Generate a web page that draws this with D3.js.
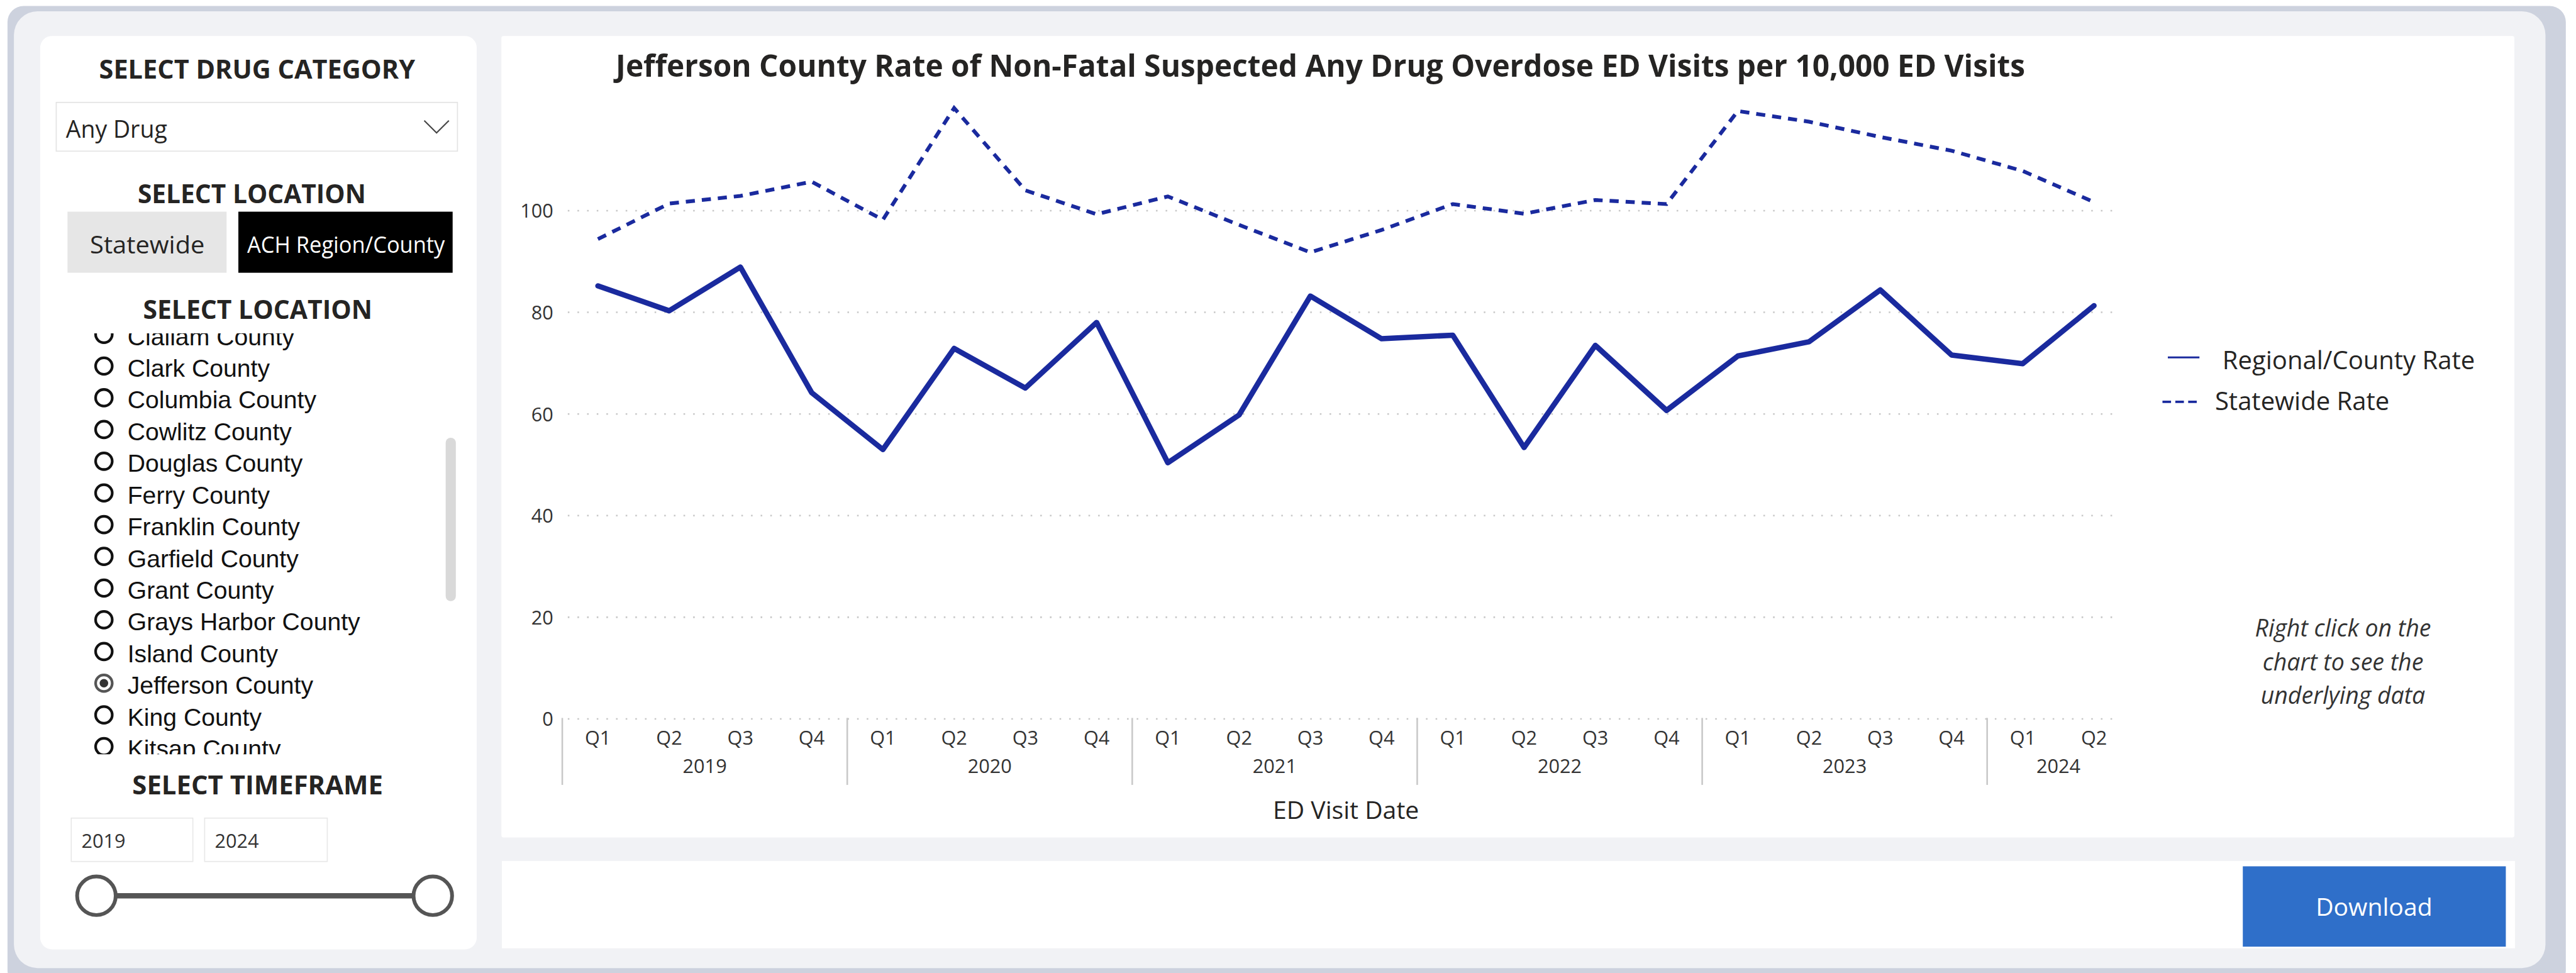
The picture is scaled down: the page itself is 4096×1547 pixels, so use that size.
<!DOCTYPE html>
<html>
<head>
<meta charset="utf-8">
<script src="https://cdn.jsdelivr.net/npm/d3@7"></script>
<style>
  html, body { margin: 0; padding: 0; background: #ffffff; overflow: hidden; }
  svg { display: block; }
</style>
</head>
<body>
<svg id="report"></svg>
<script>
// ---- data -------------------------------------------------------------
const periods = [
  "2019 Q1","2019 Q2","2019 Q3","2019 Q4",
  "2020 Q1","2020 Q2","2020 Q3","2020 Q4",
  "2021 Q1","2021 Q2","2021 Q3","2021 Q4",
  "2022 Q1","2022 Q2","2022 Q3","2022 Q4",
  "2023 Q1","2023 Q2","2023 Q3","2023 Q4",
  "2024 Q1","2024 Q2"
];
const countyRate = [
  85.2, 80.3, 88.9, 64.2,
  53.0, 72.9, 65.1, 78.0,
  50.4, 59.8, 83.2, 74.8,
  75.5, 53.4, 73.5, 60.7,
  71.4, 74.2, 84.4, 71.6,
  69.9, 81.3
];
const statewideRate = [
  94.4, 101.4, 102.9, 105.7,
  98.2, 120.2, 104.0, 99.3,
  102.8, 97.2, 91.8, 96.2,
  101.3, 99.4, 102.1, 101.3,
  119.6, 117.5, 114.5, 111.8,
  107.8, 101.7
];
const yTicks = [0, 20, 40, 60, 80, 100];
const legendLabels = ["Regional/County Rate", "Statewide Rate"];
const counties = [
  "Clallam County","Clark County","Columbia County","Cowlitz County",
  "Douglas County","Ferry County","Franklin County","Garfield County",
  "Grant County","Grays Harbor County","Island County","Jefferson County",
  "King County","Kitsap County"
];
const selectedCounty = "Jefferson County";
const drugCategory = "Any Drug";
const locationModes = ["Statewide", "ACH Region/County"];
const timeframe = ["2019", "2024"];
const chartTitle = "Jefferson County Rate of Non-Fatal Suspected Any Drug Overdose ED Visits per 10,000 ED Visits";
const noteLines = ["Right click on the", "chart to see the", "underlying data"];

// ---- canvas -----------------------------------------------------------
const W = 4809, H = 1816;
const UI = "'Open Sans', 'Noto Sans', sans-serif";
const LIST = "'Liberation Sans', Arial, sans-serif";
const INK = "#252423";
const BLUE = "#1a2a9e";

const svg = d3.select("#report")
  .attr("width", 4096).attr("height", 1547)
  .attr("viewBox", `0 0 ${W} ${H}`);

function label(g, txt, x, y, size, opts = {}) {
  const t = g.append("text")
    .attr("x", x).attr("y", y)
    .attr("font-family", opts.family || UI)
    .attr("font-size", size)
    .attr("font-weight", opts.weight || 400)
    .attr("font-style", opts.style || "normal")
    .attr("fill", opts.fill || INK)
    .attr("text-anchor", opts.anchor || "start")
    .text(txt);
  if (opts.width) t.attr("textLength", opts.width).attr("lengthAdjust", "spacingAndGlyphs");
  return t;
}

// ---- report frame -----------------------------------------------------
svg.append("rect").attr("x", 14).attr("y", 11).attr("width", 4776).attr("height", 1830)
  .attr("rx", 30).attr("fill", "#cdd2de");
svg.append("rect").attr("x", 26).attr("y", 21).attr("width", 4726).attr("height", 1786)
  .attr("rx", 44).attr("fill", "#f1f2f5");

// slicer panel
svg.append("rect").attr("x", 75).attr("y", 67).attr("width", 815).attr("height", 1705)
  .attr("rx", 22).attr("fill", "#ffffff");
// chart panel
svg.append("rect").attr("x", 936).attr("y", 67).attr("width", 3758).attr("height", 1496)
  .attr("rx", 4).attr("fill", "#ffffff");
// button panel
svg.append("rect").attr("x", 937).attr("y", 1607).attr("width", 3758).attr("height", 163)
  .attr("fill", "#ffffff");

// ---- slicers ----------------------------------------------------------
const side = svg.append("g");

label(side, "SELECT DRUG CATEGORY", 480, 147, 48, { weight: 700, anchor: "middle", width: 590 });

side.append("rect").attr("x", 105).attr("y", 191).attr("width", 749).attr("height", 91)
  .attr("fill", "#fff").attr("stroke", "#e3e3e3").attr("stroke-width", 2);
label(side, drugCategory, 123, 257, 44);
side.append("polyline")
  .attr("points", "792,225 815,248 838,225")
  .attr("fill", "none").attr("stroke", "#444").attr("stroke-width", 2.5);

label(side, "SELECT LOCATION", 470, 379, 48, { weight: 700, anchor: "middle", width: 426 });

side.append("rect").attr("x", 126).attr("y", 395).attr("width", 297).attr("height", 114)
  .attr("fill", "#e6e6e6");
label(side, locationModes[0], 275, 473, 46, { anchor: "middle", width: 214 });
side.append("rect").attr("x", 445).attr("y", 395).attr("width", 400).attr("height", 114)
  .attr("fill", "#000000");
label(side, locationModes[1], 646, 472, 42, { anchor: "middle", fill: "#ffffff", width: 369 });

label(side, "SELECT LOCATION", 481, 595, 48, { weight: 700, anchor: "middle", width: 428 });

// scrolling county list
svg.append("clipPath").attr("id", "listClip")
  .append("rect").attr("x", 75).attr("y", 622).attr("width", 815).attr("height", 786);
const list = side.append("g").attr("clip-path", "url(#listClip)");
const rowY = d3.scaleLinear().domain([0, 1]).range([628, 687.2]);
counties.forEach((c, i) => {
  const cy = rowY(i);
  const on = c === selectedCounty;
  list.append("circle").attr("cx", 194).attr("cy", cy - 4).attr("r", 15.5)
    .attr("fill", "#fff").attr("stroke", on ? "#555" : "#111").attr("stroke-width", 5);
  if (on) list.append("circle").attr("cx", 194).attr("cy", cy - 4).attr("r", 8).attr("fill", "#333");
  label(list, c, 238, cy + 16, 46, { family: LIST, fill: "#111" });
});
side.append("rect").attr("x", 832).attr("y", 817).attr("width", 19).attr("height", 305)
  .attr("rx", 9.5).attr("fill", "#d9d9d9");

label(side, "SELECT TIMEFRAME", 481, 1483, 48, { weight: 700, anchor: "middle", width: 468 });

side.append("rect").attr("x", 133).attr("y", 1527).attr("width", 227).attr("height", 81)
  .attr("fill", "#fff").attr("stroke", "#e8e8e8").attr("stroke-width", 2);
side.append("rect").attr("x", 382).attr("y", 1527).attr("width", 229).attr("height", 81)
  .attr("fill", "#fff").attr("stroke", "#e8e8e8").attr("stroke-width", 2);
label(side, timeframe[0], 152, 1582, 36, { fill: "#333" });
label(side, timeframe[1], 401, 1582, 36, { fill: "#333" });

side.append("line").attr("x1", 216).attr("x2", 772).attr("y1", 1672).attr("y2", 1672)
  .attr("stroke", "#555").attr("stroke-width", 10);
[180, 808].forEach(cx => side.append("circle").attr("cx", cx).attr("cy", 1672).attr("r", 36)
  .attr("fill", "#fff").attr("stroke", "#555").attr("stroke-width", 7));

// ---- line chart -------------------------------------------------------
const chart = svg.append("g");

label(chart, chartTitle, 2465, 143, 57, { weight: 700, anchor: "middle", width: 2631 });

const x = d3.scaleBand().domain(periods).range([1049.7, 3975.7]).paddingInner(0).paddingOuter(0);
const xc = p => x(p) + x.bandwidth() / 2;
const y = d3.scaleLinear().domain([0, 100]).range([1341.8, 393.1]);

// dotted horizontal gridlines
chart.append("g").selectAll("line").data(yTicks).join("line")
  .attr("x1", 1060).attr("x2", 3952)
  .attr("y1", d => y(d)).attr("y2", d => y(d))
  .attr("stroke", "#c8c8c8").attr("stroke-width", 3).attr("stroke-dasharray", "3,15");

// value axis labels
const yAxis = chart.append("g").attr("transform", "translate(1033,0)")
  .call(d3.axisLeft(y).tickValues(yTicks).tickSize(0).tickPadding(0));
yAxis.select(".domain").remove();
yAxis.selectAll("text")
  .attr("font-family", UI).attr("font-size", 36).attr("fill", "#333")
  .attr("dy", "0.36em");

// hierarchical date axis: quarters, then years
const xAxis = chart.append("g").attr("transform", "translate(0,1340)")
  .call(d3.axisBottom(x).tickSize(0).tickPadding(0).tickFormat(p => p.split(" ")[1]));
xAxis.select(".domain").remove();
xAxis.selectAll("text")
  .attr("font-family", UI).attr("font-size", 36).attr("fill", "#333")
  .attr("dy", 0).attr("y", 50);

const years = Array.from(new Set(periods.map(p => p.split(" ")[0])));
years.forEach(yr => {
  const inYear = periods.filter(p => p.startsWith(yr));
  const x0 = x(inYear[0]);
  const x1 = x(inYear[inYear.length - 1]) + x.bandwidth();
  chart.append("line").attr("x1", x0).attr("x2", x0).attr("y1", 1340).attr("y2", 1465)
    .attr("stroke", "#c8c8c8").attr("stroke-width", 3);
  label(chart, yr, (x0 + x1) / 2, 1443, 36, { anchor: "middle", fill: "#333" });
});

label(chart, "ED Visit Date", (x.range()[0] + x.range()[1]) / 2, 1529, 46, { anchor: "middle" });

const line = d3.line().x((d, i) => xc(periods[i])).y(d => y(d));

chart.append("path").datum(statewideRate)
  .attr("d", line).attr("fill", "none")
  .attr("stroke", BLUE).attr("stroke-width", 7).attr("stroke-dasharray", "17,13");

chart.append("path").datum(countyRate)
  .attr("d", line).attr("fill", "none")
  .attr("stroke", BLUE).attr("stroke-width", 10)
  .attr("stroke-linejoin", "round").attr("stroke-linecap", "round");

// legend
const legend = chart.append("g");
legend.append("line").attr("x1", 4047).attr("x2", 4106).attr("y1", 667).attr("y2", 667)
  .attr("stroke", BLUE).attr("stroke-width", 3.5);
label(legend, legendLabels[0], 4149, 689, 47);
legend.append("line").attr("x1", 4037).attr("x2", 4101).attr("y1", 750).attr("y2", 750)
  .attr("stroke", BLUE).attr("stroke-width", 4.5).attr("stroke-dasharray", "16,8");
label(legend, legendLabels[1], 4135, 765, 47);

// usage note
noteLines.forEach((t, i) => label(chart, t, 4374, 1188 + i * 63, 44,
  { anchor: "middle", style: "italic", fill: "#333" }));

// download button
svg.append("rect").attr("x", 4187).attr("y", 1617).attr("width", 491).attr("height", 150)
  .attr("fill", "#2f6fc9");
label(svg, "Download", 4432, 1709, 46, { anchor: "middle", fill: "#ffffff" });
</script>
</body>
</html>
